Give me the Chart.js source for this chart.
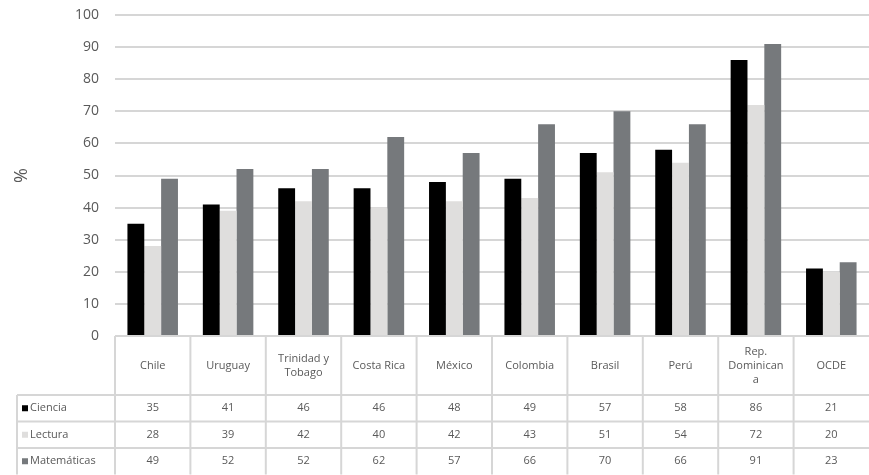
<!DOCTYPE html>
<html lang="es">
<head>
<meta charset="utf-8">
<title>Ciencia, Lectura y Matemáticas</title>
<script src="https://cdn.jsdelivr.net/npm/chart.js@4"></script>
<style>
  html, body { margin: 0; padding: 0; background: #fff; }
  canvas { display: block; }
</style>
</head>
<body>
<canvas id="grafico" width="869" height="475"></canvas>
<script>
// ── DATOS
const categorias = ['Chile', 'Uruguay', ['Trinidad y', 'Tobago'], 'Costa Rica', 'México',
  'Colombia', 'Brasil', 'Perú', ['Rep.', 'Dominican', 'a'], 'OCDE'];
const ciencia     = [35, 41, 46, 46, 48, 49, 57, 58, 86, 21];
const lectura     = [28, 39, 42, 40, 42, 43, 51, 54, 72, 20];
const matematicas = [49, 52, 52, 62, 57, 66, 70, 66, 91, 23];
const ticksY = [0, 10, 20, 30, 40, 50, 60, 70, 80, 90, 100];

const series = [
  { nombre: 'Ciencia',     datos: ciencia,     color: '#000000' },
  { nombre: 'Lectura',     datos: lectura,     color: '#dfdedd' },
  { nombre: 'Matemáticas', datos: matematicas, color: '#76797c' },
];

// ── ESTILO
const GRIS_TEXTO = '#595959';
const GRIS_LINEA = '#d6d6d6';
const FUENTE = "'Open Sans', 'Noto Sans', sans-serif";

// ── TABLA DE DATOS BAJO EL GRÁFICO
const tablaPlugin = {
  id: 'tabla',
  afterDraw(chart) {
    const ctx = chart.ctx;
    const x = chart.scales.x;
    const area = chart.chartArea;
    const paso = x.getPixelForValue(1) - x.getPixelForValue(0);
    const izqLeyenda = 17;
    const altoCab = 59, altoFila = 26.5;
    const yCab = area.bottom;
    const yFilas = series.map((s, i) => yCab + altoCab + i * altoFila);
    const yFin = yCab + altoCab + series.length * altoFila;

    ctx.save();
    ctx.strokeStyle = GRIS_LINEA;
    ctx.lineWidth = 2;

    // líneas horizontales
    ctx.beginPath();
    ctx.moveTo(area.left, yCab); ctx.lineTo(area.right, yCab);
    yFilas.forEach(y => { ctx.moveTo(izqLeyenda, y); ctx.lineTo(area.right, y); });
    // líneas verticales
    ctx.moveTo(izqLeyenda, yFilas[0]); ctx.lineTo(izqLeyenda, yFin);
    categorias.forEach((c, i) => {
      const xb = x.getPixelForValue(i) - paso / 2;
      ctx.moveTo(xb, yCab); ctx.lineTo(xb, yFin);
    });
    ctx.stroke();

    ctx.fillStyle = GRIS_TEXTO;
    ctx.font = '11px ' + FUENTE;
    ctx.textAlign = 'center';
    ctx.textBaseline = 'middle';

    // cabecera con países
    categorias.forEach((c, i) => {
      const lineas = Array.isArray(c) ? c : [c];
      const cx = x.getPixelForValue(i);
      const cy = yCab + altoCab / 2;
      const lh = 14;
      lineas.forEach((l, j) => {
        ctx.fillText(l, cx, cy + (j - (lineas.length - 1) / 2) * lh);
      });
    });

    // filas de valores
    series.forEach((s, k) => {
      const cy = yFilas[k] + altoFila / 2;
      s.datos.forEach((v, i) => ctx.fillText(String(v), x.getPixelForValue(i), cy));
      ctx.fillStyle = s.color;
      ctx.fillRect(izqLeyenda + 5, cy - 3, 6, 6);
      ctx.fillStyle = GRIS_TEXTO;
      ctx.textAlign = 'left';
      ctx.fillText(s.nombre, izqLeyenda + 13, cy);
      ctx.textAlign = 'center';
    });
    ctx.restore();
  }
};

// ── GRÁFICO
Chart.defaults.font.family = FUENTE;
Chart.defaults.color = GRIS_TEXTO;

new Chart(document.getElementById('grafico'), {
  type: 'bar',
  data: {
    labels: categorias,
    datasets: series.map(s => ({
      label: s.nombre,
      data: s.datos,
      backgroundColor: s.color,
      borderWidth: 0,
      barPercentage: 1,
      categoryPercentage: 0.67,
    }))
  },
  options: {
    responsive: false,
    devicePixelRatio: 1,
    animation: false,
    layout: { padding: { top: 15, right: 0, bottom: 139, left: 0 } },
    plugins: {
      legend: { display: false },
      tooltip: { enabled: false }
    },
    scales: {
      x: { display: false },
      y: {
        min: 0,
        max: 100,
        afterBuildTicks: axis => { axis.ticks = ticksY.map(v => ({ value: v })); },
        afterFit: axis => { axis.width = 115; axis.paddingTop = 0; axis.paddingBottom = 0; },
        ticks: { padding: 16, font: { size: 14 }, color: GRIS_TEXTO },
        grid: { color: GRIS_LINEA, lineWidth: 2, drawTicks: false },
        border: { display: false },
        title: {
          display: true,
          text: '%',
          font: { size: 18 },
          color: GRIS_TEXTO,
          padding: { top: 11, bottom: 0 }
        }
      }
    }
  },
  plugins: [tablaPlugin]
});
</script>
</body>
</html>
